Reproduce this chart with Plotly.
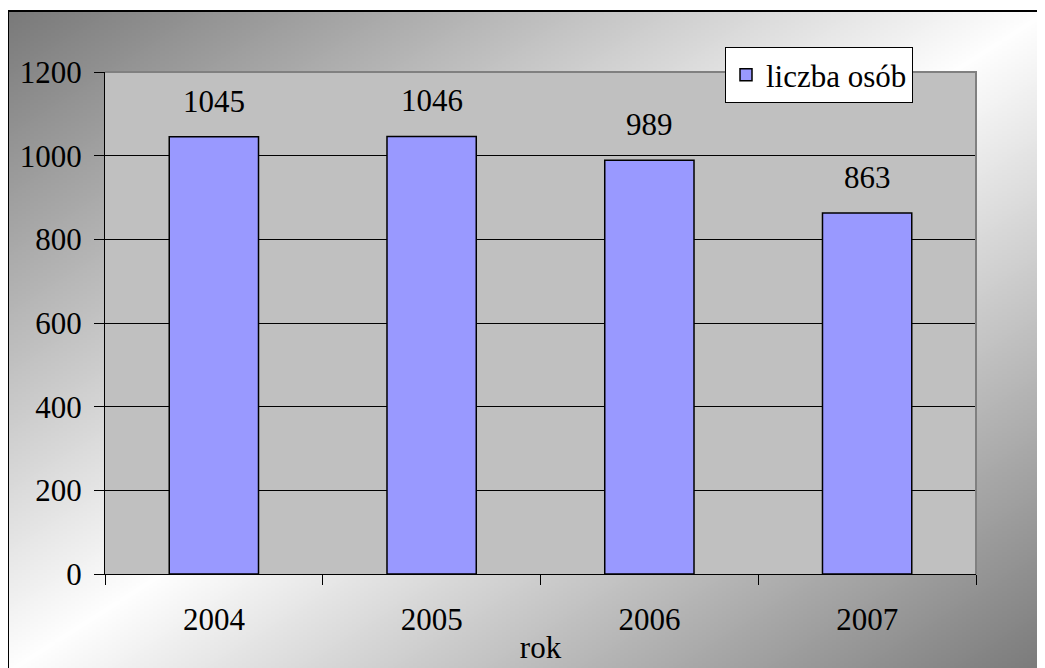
"""Liczba osób w latach 2004-2007 (Excel-style column chart)."""

import base64
import struct
import zlib

import numpy as np
import plotly.graph_objects as go

# --- data -------------------------------------------------------------
years = ["2004", "2005", "2006", "2007"]
people = [1045, 1046, 989, 863]
series_name = "liczba osób"
x_title = "rok"
y_ticks = [0, 200, 400, 600, 800, 1000, 1200]

# --- geometry ---------------------------------------------------------
# the page puts the figure 8 px in from the top-left corner
OFF = 8
W, H = 1045 - OFF, 668 - OFF
ML, MR, MT, MB = 97, 69, 64, 94
PW, PH = W - ML - MR, H - MT - MB
FONT = "Liberation Serif"


def px_x(px):
    """reference pixel x -> paper x"""
    return (px - OFF - ML) / PW


def px_y(py):
    """reference pixel y -> paper y"""
    return (H - MB - (py - OFF)) / PH


def gradient_png(n=256):
    """Diagonal grey-white-grey gradient, as a PNG data URI."""
    u = np.linspace(0, 1, n)
    uu, vv = np.meshgrid(u, u)
    t = np.abs(uu + vv - 1.0)
    img = (255 - t * (255 - 122)).astype(np.uint8)
    raw = b"".join(b"\x00" + row.tobytes() for row in img)

    def chunk(tag, data):
        return (struct.pack(">I", len(data)) + tag + data
                + struct.pack(">I", zlib.crc32(tag + data) & 0xFFFFFFFF))

    png = (b"\x89PNG\r\n\x1a\n"
           + chunk(b"IHDR", struct.pack(">IIBBBBB", n, n, 8, 0, 0, 0, 0))
           + chunk(b"IDAT", zlib.compress(raw, 9))
           + chunk(b"IEND", b""))
    return "data:image/png;base64," + base64.b64encode(png).decode()


fig = go.Figure()
fig.add_trace(go.Bar(
    x=years,
    y=people,
    name=series_name,
    width=0.41,
    marker=dict(color="#9999FF", line=dict(color="black", width=1.5)),
    showlegend=True,
    hovertemplate="%{x}: %{y}<extra></extra>",
))

# value labels above the bars (x given as category serial number)
for i, val in enumerate(people):
    fig.add_annotation(
        x=i, y=val, text=str(val), showarrow=False,
        yanchor="bottom", yshift=16,
        font=dict(family=FONT, size=31, color="black"),
    )

# chart area background and frame (Excel look)
x0, y0 = px_x(8), px_y(11)
x1, y1 = px_x(1045 + 4), px_y(668 + 4)
fig.add_layout_image(
    source=gradient_png(),
    xref="paper", yref="paper",
    x=x0, y=y0, sizex=x1 - x0, sizey=y0 - y1,
    xanchor="left", yanchor="top",
    sizing="stretch", layer="below",
)
# grey plot area (drawn above the gradient image)
fig.add_shape(type="rect", xref="paper", yref="paper",
              x0=0, y0=0, x1=1, y1=1,
              fillcolor="#C0C0C0", line=dict(width=0), layer="below")
fig.add_shape(type="path", xref="paper", yref="paper",
              path=f"M {x0},{y1} L {x0},{y0} L {x1},{y0}",
              line=dict(color="black", width=2), layer="above")
# plot area border (top and right, grey)
fig.add_shape(type="path", xref="paper", yref="paper",
              path="M 0,1 L 1,1 L 1,0",
              line=dict(color="#808080", width=2), layer="above")

fig.update_layout(
    width=W, height=H,
    margin=dict(l=ML, r=MR, t=MT, b=MB, pad=0, autoexpand=False),
    paper_bgcolor="white",
    plot_bgcolor="rgba(0,0,0,0)",
    font=dict(family=FONT, size=31, color="black"),
    showlegend=True,
    legend=dict(
        x=px_x(913), y=px_y(47), xanchor="right", yanchor="top",
        bgcolor="white", bordercolor="black", borderwidth=1,
        font=dict(family=FONT, size=31, color="black"),
        itemwidth=30,
    ),
    xaxis=dict(
        type="category",
        range=[-0.5, len(years) - 0.5],
        automargin=False,
        showline=True, linecolor="black", linewidth=1,
        ticks="outside", tickson="boundaries", ticklen=10,
        tickcolor="black", tickwidth=1,
        showgrid=False,
        tickangle=0,
        tickfont=dict(family=FONT, size=31, color="black"),
        ticklabelstandoff=18,
        title=dict(text=x_title, standoff=0,
                   font=dict(family=FONT, size=31, color="black")),
    ),
    yaxis=dict(
        range=[0, 1200],
        automargin=False,
        tickvals=y_ticks,
        showline=True, linecolor="black", linewidth=1,
        ticks="outside", ticklen=10, tickcolor="black", tickwidth=1,
        showgrid=True, gridcolor="black", gridwidth=1,
        zeroline=False,
        tickfont=dict(family=FONT, size=31, color="black"),
        ticklabelstandoff=6,
    ),
    bargap=0.59,
)

fig.write_html("out.html")
